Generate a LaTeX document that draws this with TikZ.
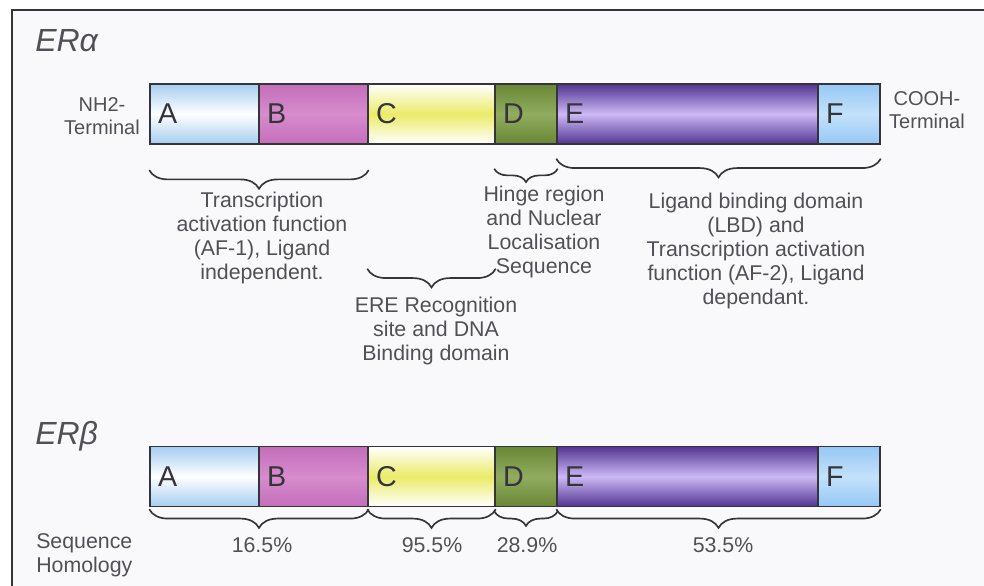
\documentclass[tikz,border=0pt]{standalone}
\usepackage{fontspec}
\setmainfont{Liberation Sans}
\usetikzlibrary{decorations.pathreplacing}

\definecolor{txtgray}{RGB}{80,80,86}
\definecolor{edgegray}{RGB}{52,52,58}
\definecolor{paper}{RGB}{249,249,251}
\definecolor{blueA}{RGB}{165,205,240}
\definecolor{pinkB}{RGB}{195,110,185}
\definecolor{pinkBm}{RGB}{215,140,205}
\definecolor{yelC}{RGB}{235,235,105}
\definecolor{greenD}{RGB}{105,135,55}
\definecolor{greenDm}{RGB}{145,172,95}
\definecolor{purpE}{RGB}{82,52,145}
\definecolor{purpEm}{RGB}{205,185,245}
\definecolor{blueF}{RGB}{150,200,245}
\definecolor{blueFm}{RGB}{195,225,250}

\tikzset{
  dombox/.style={draw=edgegray, line width=1.1pt, minimum height=45pt,
    inner xsep=6pt, inner ysep=0pt, align=left, text=edgegray,
    font=\fontsize{21.5}{24}\selectfont},
  curly/.style={decorate, decoration={brace, mirror, amplitude=#1},
    draw=edgegray, line width=1.25pt},
  lbl/.style={text=txtgray, align=center, inner sep=0pt,
    font=\fontsize{16}{18}\selectfont},
  term/.style={text=txtgray, align=center, inner sep=0pt,
    font=\fontsize{15}{17.25}\selectfont},
  title/.style={text=txtgray, inner sep=0pt, anchor=base west,
    font=\fontsize{24}{28}\selectfont\itshape},
}

\begin{document}
\begin{tikzpicture}[x=0.75pt, y=-0.75pt]
  % page and frame (pixel grid, y downwards)
  \useasboundingbox (0,0) rectangle (984,585);
  \clip (0,0) rectangle (984,585);
  \fill[white] (0,0) rectangle (984,585);
  \fill[paper] (12,10) rectangle (1000,600);
  \draw[edgegray, line width=1.5pt] (12,600) -- (12,10) -- (1000,10);

  % domain bars: row a = ER alpha, row b = ER beta
  \foreach \row/\yc in {a/114, b/476.5} {
    \foreach \nm/\xa/\xb/\ca/\cm in {A/150/259/blueA/white, B/259/368/pinkB/pinkBm,
        C/368/495/white/yelC, D/495/557/greenD/greenDm,
        E/557/818/purpE/purpEm, F/818/880/blueF/blueFm} {
      \pgfmathsetmacro{\dw}{(\xb-\xa)*0.75}
      \pgfmathsetmacro{\tw}{(\xb-\xa)*0.75-12}
      \node[dombox, top color=\ca, bottom color=\ca, middle color=\cm,
        minimum width=\dw pt, text width=\tw pt]
        (\row-\nm) at ({(\xa+\xb)/2}, \yc) {\nm};
    }
  }

  % titles and terminals
  \node[title] (ta) at (35,51) {ERα};
  \node[title] (tb) at (35,444) {ERβ};
  \node[term] (nterm) at (102,116.5) {NH2-\\Terminal};
  \node[term] (cterm) at (927,110) {COOH-\\Terminal};

  % ER alpha braces
  \draw[curly=14pt] ([yshift=-19pt]a-A.south west) -- ([yshift=-19pt]a-B.south east);
  \draw[curly=10pt] ([yshift=-18pt]a-D.south west) -- ([yshift=-18pt]a-D.south east);
  \draw[curly=14pt] ([yshift=-10.5pt]a-E.south west) -- ([yshift=-10.5pt]a-F.south east);
  \draw[curly=14pt] ([yshift=-93pt]a-C.south west) -- ([yshift=-93pt]a-C.south east);

  \node[lbl] (af1) at (262,238)
    {Transcription\\activation function\\(AF-1), Ligand\\independent.};
  \node[lbl] (hinge) at (544,232)
    {Hinge region\\and Nuclear\\Localisation\\Sequence};
  \node[lbl] (lbd) at (756,251)
    {Ligand binding domain\\(LBD) and\\Transcription activation\\function (AF-2), Ligand\\dependant.};
  \node[lbl] (ere) at (436,331)
    {ERE Recognition\\site and DNA\\Binding domain};

  % ER beta braces and homology
  \draw[curly=14pt] ([yshift=-1.5pt]b-A.south west) -- ([yshift=-1.5pt]b-B.south east);
  \draw[curly=14pt] ([yshift=-1.5pt]b-C.south west) -- ([yshift=-1.5pt]b-C.south east);
  \draw[curly=11pt] ([yshift=-3pt]b-D.south west) -- ([yshift=-3pt]b-D.south east);
  \draw[curly=14pt] ([yshift=-1.5pt]b-E.south west) -- ([yshift=-1.5pt]b-F.south east);

  \node[lbl] (hab) at (262,545) {16.5\%};
  \node[lbl] (hc) at (432,545) {95.5\%};
  \node[lbl] (hd) at (527,545) {28.9\%};
  \node[lbl] (hef) at (723,545) {53.5\%};
  \node[lbl, align=left, anchor=west] (homol) at (36,555) {Sequence\\Homology};
\end{tikzpicture}
\end{document}
